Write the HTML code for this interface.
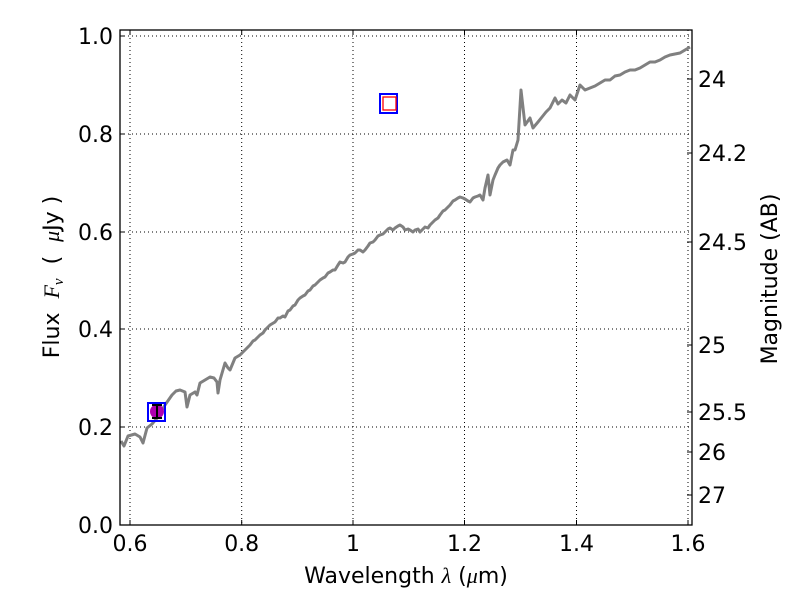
<!DOCTYPE html>
<html><head><style>body{margin:0;background:#fff}svg{display:block}text{font-family:"DejaVu Sans","Liberation Sans",sans-serif}</style></head>
<body>
<svg width="800" height="600" viewBox="0 0 800 600">
<g stroke="#000" stroke-width="1" stroke-dasharray="1,3" fill="none">
<line x1="130" y1="30" x2="130" y2="525"/><line x1="241.7" y1="30" x2="241.7" y2="525"/><line x1="353" y1="30" x2="353" y2="525"/><line x1="464.5" y1="30" x2="464.5" y2="525"/><line x1="576.5" y1="30" x2="576.5" y2="525"/><line x1="688" y1="30" x2="688" y2="525"/>
<line x1="120" y1="427" x2="692" y2="427"/><line x1="120" y1="329" x2="692" y2="329"/><line x1="120" y1="232" x2="692" y2="232"/><line x1="120" y1="134" x2="692" y2="134"/><line x1="120" y1="36" x2="692" y2="36"/>
</g>
<polyline fill="none" stroke="#808080" stroke-width="3" stroke-linejoin="round" points="121,441 124,446 128,436 135,434 140,437 143,443 147,428 152,424 158,417 165,405 172,395 176,391 180,390 185,392 187,407 190,395 195,392 197,395 200,383 210,377 214,378 217,382 218,393 220,380 225,363 228,368 230,370 235,358 240,355 243,352 245,350 248,347 250,345 253,341 255,340 258,337 260,335 263,333 265,330 268,327 270,325 275,322 278,318 280,318 283,316 285,317 288,311 290,310 293,306 295,305 298,300 300,298 303,296 305,295 308,291 310,290 313,286 315,285 318,282 320,280 323,278 325,277 328,273 330,272 333,270 335,270 338,265 340,262 343,263 345,262 348,257 350,255 353,254 355,253 358,250 360,250 363,252 365,250 368,246 370,243 373,242 375,240 378,236 380,235 383,234 385,232 388,229 390,228 393,230 395,228 398,226 400,225 403,227 405,230 408,229 410,230 413,232 415,230 418,229 420,232 423,229 425,227 428,228 430,225 433,222 435,220 438,218 440,215 443,211 445,210 448,207 450,205 453,201 455,200 458,198 460,197 463,198 465,199 468,201 470,202 473,198 475,197 478,196 480,195 483,200 485,188 488,175 490,195 493,180 495,175 498,168 500,165 503,162 507,160 510,165 513,150 515,150 518,140 521,90 525,125 530,118 533,128 538,122 542,117 546,112 550,108 555,98 558,104 562,100 566,103 570,95 575,100 580,85 585,90 590,88 595,86 600,83 605,80 610,80 615,76 620,75 625,72 630,70 635,70 640,68 645,65 650,62 655,62 660,60 665,57 670,55 675,54 680,53 685,50 690,47"/>
<rect x="148" y="403" width="17" height="18" fill="none" stroke="#00f" stroke-width="2"/>
<circle cx="157" cy="411.5" r="7" fill="#b000b0"/>
<g stroke="#000" stroke-width="2"><line x1="157" y1="405" x2="157" y2="418"/><line x1="152" y1="405" x2="162" y2="405"/><line x1="152" y1="418" x2="162" y2="418"/></g>
<rect x="380" y="94" width="17" height="19" fill="none" stroke="#00f" stroke-width="2"/>
<rect x="383" y="97" width="13" height="13" fill="none" stroke="#f00" stroke-width="1.3"/>
<rect x="120" y="30" width="572" height="495" fill="none" stroke="#000" stroke-width="1.3"/>
<g stroke="#000" stroke-width="1">
<line x1="130" y1="525" x2="130" y2="520"/><line x1="241.7" y1="525" x2="241.7" y2="520"/><line x1="353" y1="525" x2="353" y2="520"/><line x1="464.5" y1="525" x2="464.5" y2="520"/><line x1="576.5" y1="525" x2="576.5" y2="520"/><line x1="688" y1="525" x2="688" y2="520"/>
<line x1="130" y1="30" x2="130" y2="35"/><line x1="241.7" y1="30" x2="241.7" y2="35"/><line x1="353" y1="30" x2="353" y2="35"/><line x1="464.5" y1="30" x2="464.5" y2="35"/><line x1="576.5" y1="30" x2="576.5" y2="35"/>
<line x1="120" y1="427" x2="125" y2="427"/><line x1="120" y1="329" x2="125" y2="329"/><line x1="120" y1="232" x2="125" y2="232"/><line x1="120" y1="134" x2="125" y2="134"/><line x1="120" y1="36" x2="125" y2="36"/>
<line x1="692" y1="79" x2="687" y2="79"/><line x1="692" y1="153" x2="687" y2="153"/><line x1="692" y1="242" x2="687" y2="242"/><line x1="692" y1="345" x2="687" y2="345"/><line x1="692" y1="412" x2="687" y2="412"/><line x1="692" y1="452" x2="687" y2="452"/><line x1="692" y1="495" x2="687" y2="495"/>
</g>
<g font-size="22" fill="#000" text-anchor="middle">
<text x="130" y="551">0.6</text><text x="241.7" y="551">0.8</text><text x="353" y="551">1</text><text x="464.5" y="551">1.2</text><text x="576.5" y="551">1.4</text><text x="688" y="551">1.6</text>
</g>
<g font-size="22" fill="#000" text-anchor="end">
<text x="113" y="533">0.0</text><text x="113" y="435">0.2</text><text x="113" y="337">0.4</text><text x="113" y="240">0.6</text><text x="113" y="142">0.8</text><text x="113" y="44">1.0</text>
</g>
<g font-size="22" fill="#000">
<text x="698" y="87">24</text><text x="698" y="161">24.2</text><text x="698" y="250">24.5</text><text x="698" y="353">25</text><text x="698" y="420">25.5</text><text x="698" y="460">26</text><text x="698" y="503">27</text>
</g>
<text x="406" y="583" font-size="22" text-anchor="middle">Wavelength  <tspan font-style="italic" font-family="Liberation Serif">λ</tspan> (<tspan font-style="italic" font-family="Liberation Serif">μ</tspan>m)</text>
<text transform="translate(59,277) rotate(-90)" font-size="22" text-anchor="middle" xml:space="preserve">Flux  <tspan font-style="italic" font-family="Liberation Serif">F</tspan><tspan font-style="italic" font-family="Liberation Serif" font-size="15" dy="4">ν</tspan><tspan dy="-4">  (  </tspan><tspan font-style="italic" font-family="Liberation Serif">μ</tspan>Jy )</text>
<text transform="translate(777,279) rotate(-90)" font-size="22" text-anchor="middle">Magnitude (AB)</text>
</svg>
</body></html>
